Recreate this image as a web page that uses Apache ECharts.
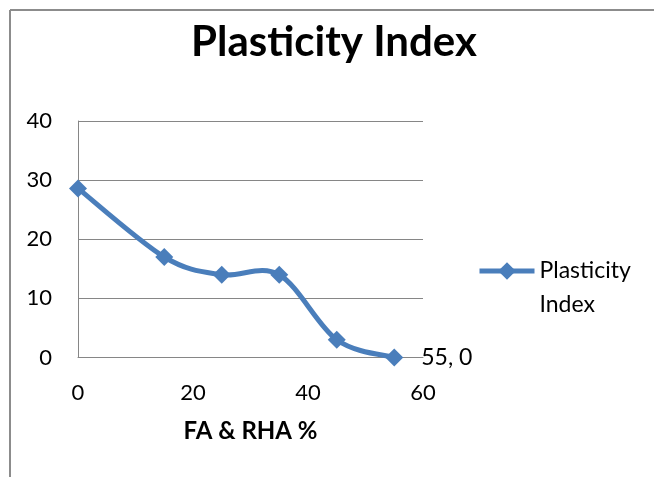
<!DOCTYPE html>
<html>
<head>
<meta charset="utf-8">
<style>
  html, body { margin: 0; padding: 0; background: #ffffff; }
  #chart { width: 654px; height: 477px; }
</style>
<script src="https://cdn.jsdelivr.net/npm/echarts@6/dist/echarts.min.js"></script>
</head>
<body>
<div id="chart"></div>
<script>
// Fly ash & rice husk ash content (%) against plasticity index
const replacement = [0, 15, 25, 35, 45, 55];
const plasticityIndex = [28.6, 17, 14, 14, 3, 0];
const seriesName = 'Plasticity Index';
const legendText = 'Plasticity\nIndex';
const chartTitle = 'Plasticity Index';
const xAxisTitle = 'FA & RHA %';
const labelledPoint = 5; // index of the point carrying a value label

const FONT = 'Lato, "Open Sans", sans-serif';
const BLUE = '#4A7EBB';
const GRID = '#868686';
const FRAME = '#8c8c8c';

const pairs = replacement.map((x, i) => [x, plasticityIndex[i]]);

const points = pairs.map((v, i) => {
  const item = { value: v };
  if (i === labelledPoint) {
    item.label = {
      show: true,
      position: 'right',
      distance: 18,
      color: '#000',
      fontFamily: FONT,
      fontSize: 23,
      formatter: p => p.value[0] + ', ' + p.value[1]
    };
  }
  return item;
});

// Smoothed connector: cubic Bezier per segment with Catmull-Rom tangents,
// all coordinates taken from the axes via api.coord.
function renderSegment(params, api) {
  const i = params.dataIndex;
  const n = pairs.length;
  if (i >= n - 1) return null;
  const c = k => api.coord(pairs[Math.max(0, Math.min(n - 1, k))]);
  const p0 = c(i - 1), p1 = c(i), p2 = c(i + 1), p3 = c(i + 2);
  return {
    type: 'bezierCurve',
    shape: {
      x1: p1[0], y1: p1[1],
      x2: p2[0], y2: p2[1],
      cpx1: p1[0] + (p2[0] - p0[0]) / 6,
      cpy1: p1[1] + (p2[1] - p0[1]) / 6,
      cpx2: p2[0] - (p3[0] - p1[0]) / 6,
      cpy2: p2[1] - (p3[1] - p1[1]) / 6
    },
    style: { stroke: BLUE, lineWidth: 5, fill: null, lineCap: 'round' },
    silent: true
  };
}

const chart = echarts.init(document.getElementById('chart'), null, { renderer: 'canvas' });
chart.setOption({
  animation: false,
  backgroundColor: '#ffffff',
  // chart-area frame: top and left edges only run inside the canvas
  graphic: [
    { type: 'line', silent: true, shape: { x1: 10, y1: 10, x2: 654, y2: 10 }, style: { stroke: FRAME, lineWidth: 2 } },
    { type: 'line', silent: true, shape: { x1: 10, y1: 10, x2: 10, y2: 477 }, style: { stroke: FRAME, lineWidth: 2 } }
  ],
  title: {
    text: chartTitle,
    left: 334,
    textAlign: 'center',
    top: 21,
    padding: 0,
    textStyle: { fontFamily: FONT, fontWeight: 'bold', fontSize: 42, color: '#000' }
  },
  legend: {
    left: 477,
    top: 220,
    padding: 0,
    itemWidth: 55,
    itemHeight: 22,
    itemGap: 0,
    data: [seriesName],
    // leading blank line keeps the icon level with the first text line
    formatter: () => '\n' + legendText,
    lineStyle: { color: BLUE, width: 5, opacity: 1 },
    textStyle: { fontFamily: FONT, fontSize: 23, color: '#000', lineHeight: 34 }
  },
  grid: { left: 78, right: 231, top: 121, bottom: 119.5 },
  xAxis: {
    type: 'value',
    min: 0, max: 60, interval: 20,
    name: xAxisTitle,
    nameLocation: 'middle',
    nameGap: 62,
    nameTextStyle: { fontFamily: FONT, fontWeight: 'bold', fontSize: 24, color: '#000' },
    axisLine: { show: true, lineStyle: { color: GRID, width: 1 } },
    axisTick: { show: false },
    splitLine: { show: false },
    axisLabel: { margin: 24, fontFamily: FONT, fontSize: 22, color: '#000' }
  },
  yAxis: {
    type: 'value',
    min: 0, max: 40, interval: 10,
    axisLine: { show: true, lineStyle: { color: GRID, width: 1 } },
    axisTick: { show: false },
    splitLine: { show: true, lineStyle: { color: GRID, width: 1 } },
    axisLabel: { margin: 26, fontFamily: FONT, fontSize: 22, color: '#000' }
  },
  series: [
    {
      name: 'curve',
      type: 'custom',
      data: pairs,
      encode: { x: 0, y: 1 },
      renderItem: renderSegment,
      clip: false,
      z: 2
    },
    {
      name: seriesName,
      type: 'line',
      data: points,
      symbol: 'diamond',
      symbolSize: 18,
      itemStyle: { color: BLUE },
      lineStyle: { color: BLUE, width: 5, opacity: 0 },
      z: 3
    }
  ]
});
</script>
</body>
</html>
